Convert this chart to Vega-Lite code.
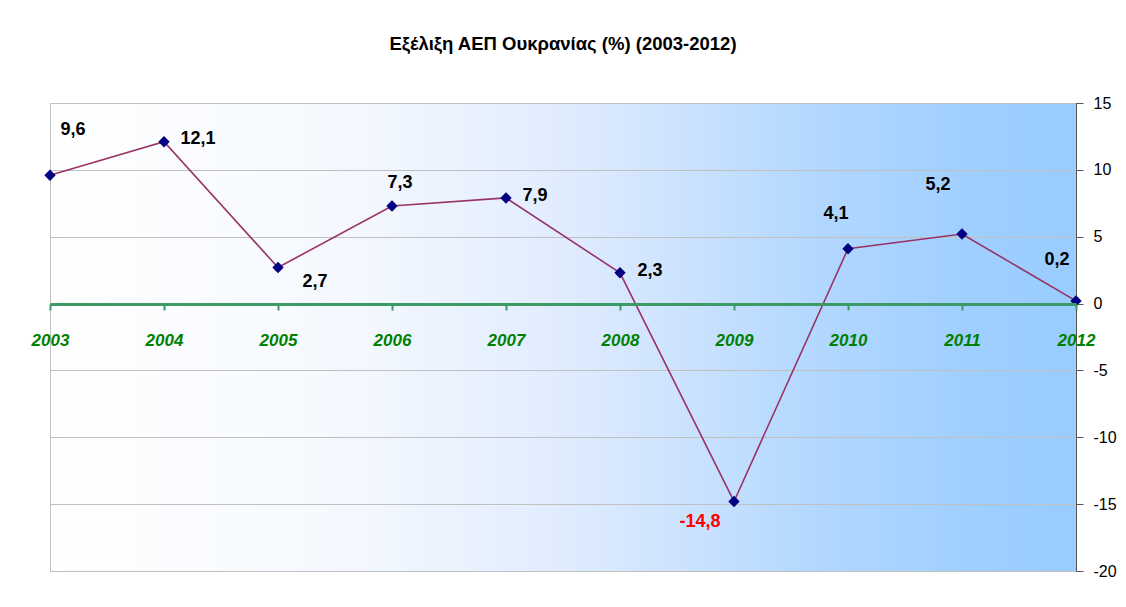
{
  "$schema": "https://vega.github.io/schema/vega-lite/v6.json",
  "width": 1026,
  "height": 468,
  "autosize": {"type": "none"},
  "padding": {"left": 50, "top": 103, "right": 50, "bottom": 36},
  "background": "white",
  "title": {
    "text": "Εξέλιξη ΑΕΠ Ουκρανίας (%) (2003-2012)",
    "font": "Liberation Sans, Arial, sans-serif",
    "fontSize": 18.5,
    "fontWeight": "bold",
    "color": "#000000",
    "anchor": "middle",
    "baseline": "bottom",
    "offset": 23
  },
  "data": {
    "values": [
      {"year": "2003", "value": 9.6},
      {"year": "2004", "value": 12.1},
      {"year": "2005", "value": 2.7},
      {"year": "2006", "value": 7.3},
      {"year": "2007", "value": 7.9},
      {"year": "2008", "value": 2.3},
      {"year": "2009", "value": -14.8},
      {"year": "2010", "value": 4.1},
      {"year": "2011", "value": 5.2},
      {"year": "2012", "value": 0.2}
    ]
  },
  "encoding": {
    "x": {
      "field": "year",
      "type": "ordinal",
      "scale": {"type": "point", "padding": 0},
      "axis": {
        "orient": "bottom",
        "offset": -267,
        "title": null,
        "labelAngle": 0,
        "domainColor": "#3c9a64",
        "domainWidth": 3,
        "tickColor": "#3c9a64",
        "tickWidth": 2,
        "tickSize": 6,
        "labelColor": "#008000",
        "labelFont": "Liberation Sans, Arial, sans-serif",
        "labelFontSize": 17,
        "labelFontStyle": "italic",
        "labelFontWeight": "bold",
        "labelPadding": 22,
        "grid": false,
        "zindex": 1
      }
    },
    "y": {
      "field": "value",
      "type": "quantitative",
      "scale": {"domain": [-20, 15], "nice": false, "zero": false},
      "axis": {
        "orient": "right",
        "title": null,
        "values": [-20, -15, -10, -5, 0, 5, 10, 15],
        "grid": true,
        "gridColor": "#c0c0c0",
        "gridWidth": 1,
        "domainColor": "#555555",
        "domainWidth": 1,
        "tickColor": "#555555",
        "tickSize": 7,
        "labelColor": "#000000",
        "labelFont": "Liberation Sans, Arial, sans-serif",
        "labelFontSize": 16,
        "labelPadding": 10
      }
    }
  },
  "layer": [
    {"mark": {"type": "line", "color": "#993366", "strokeWidth": 1.6}},
    {"mark": {"type": "point", "shape": "diamond", "filled": true, "color": "#000080", "size": 130, "opacity": 1}},
    {
      "transform": [{"filter": "datum.year == '2003'"}],
      "mark": {"type": "text", "dx": 23, "dy": -45, "fontSize": 18, "fontWeight": "bold", "font": "Liberation Sans, Arial, sans-serif", "color": "#000000", "baseline": "middle"},
      "encoding": {"text": {"field": "value", "type": "quantitative", "format": ".1f"}}
    },
    {
      "transform": [{"filter": "datum.year == '2004'"}],
      "mark": {"type": "text", "dx": 34, "dy": -3, "fontSize": 18, "fontWeight": "bold", "font": "Liberation Sans, Arial, sans-serif", "color": "#000000", "baseline": "middle"},
      "encoding": {"text": {"field": "value", "type": "quantitative", "format": ".1f"}}
    },
    {
      "transform": [{"filter": "datum.year == '2005'"}],
      "mark": {"type": "text", "dx": 37, "dy": 15, "fontSize": 18, "fontWeight": "bold", "font": "Liberation Sans, Arial, sans-serif", "color": "#000000", "baseline": "middle"},
      "encoding": {"text": {"field": "value", "type": "quantitative", "format": ".1f"}}
    },
    {
      "transform": [{"filter": "datum.year == '2006'"}],
      "mark": {"type": "text", "dx": 8, "dy": -23, "fontSize": 18, "fontWeight": "bold", "font": "Liberation Sans, Arial, sans-serif", "color": "#000000", "baseline": "middle"},
      "encoding": {"text": {"field": "value", "type": "quantitative", "format": ".1f"}}
    },
    {
      "transform": [{"filter": "datum.year == '2007'"}],
      "mark": {"type": "text", "dx": 29, "dy": -2, "fontSize": 18, "fontWeight": "bold", "font": "Liberation Sans, Arial, sans-serif", "color": "#000000", "baseline": "middle"},
      "encoding": {"text": {"field": "value", "type": "quantitative", "format": ".1f"}}
    },
    {
      "transform": [{"filter": "datum.year == '2008'"}],
      "mark": {"type": "text", "dx": 30, "dy": -2, "fontSize": 18, "fontWeight": "bold", "font": "Liberation Sans, Arial, sans-serif", "color": "#000000", "baseline": "middle"},
      "encoding": {"text": {"field": "value", "type": "quantitative", "format": ".1f"}}
    },
    {
      "transform": [{"filter": "datum.year == '2009'"}],
      "mark": {"type": "text", "dx": -34, "dy": 21, "fontSize": 18, "fontWeight": "bold", "font": "Liberation Sans, Arial, sans-serif", "color": "#ff0000", "baseline": "middle"},
      "encoding": {"text": {"field": "value", "type": "quantitative", "format": ".1f"}}
    },
    {
      "transform": [{"filter": "datum.year == '2010'"}],
      "mark": {"type": "text", "dx": -12, "dy": -35, "fontSize": 18, "fontWeight": "bold", "font": "Liberation Sans, Arial, sans-serif", "color": "#000000", "baseline": "middle"},
      "encoding": {"text": {"field": "value", "type": "quantitative", "format": ".1f"}}
    },
    {
      "transform": [{"filter": "datum.year == '2011'"}],
      "mark": {"type": "text", "dx": -24, "dy": -49, "fontSize": 18, "fontWeight": "bold", "font": "Liberation Sans, Arial, sans-serif", "color": "#000000", "baseline": "middle"},
      "encoding": {"text": {"field": "value", "type": "quantitative", "format": ".1f"}}
    },
    {
      "transform": [{"filter": "datum.year == '2012'"}],
      "mark": {"type": "text", "dx": -19, "dy": -41, "fontSize": 18, "fontWeight": "bold", "font": "Liberation Sans, Arial, sans-serif", "color": "#000000", "baseline": "middle"},
      "encoding": {"text": {"field": "value", "type": "quantitative", "format": ".1f"}}
    }
  ],
  "config": {
    "locale": {
      "number": {"decimal": ",", "thousands": ".", "grouping": [3], "currency": ["", " €"], "minus": "-"}
    },
    "view": {
      "stroke": "#c0c0c0",
      "strokeWidth": 1,
      "fill": {
        "gradient": "linear",
        "x1": 0, "y1": 0, "x2": 1, "y2": 0,
        "stops": [
          {"offset": 0, "color": "#ffffff"},
          {"offset": 0.3, "color": "#f4f8fe"},
          {"offset": 0.5, "color": "#e0ecfe"},
          {"offset": 0.6, "color": "#cfe4fe"},
          {"offset": 0.75, "color": "#b2d7ff"},
          {"offset": 0.9, "color": "#9fcfff"},
          {"offset": 1, "color": "#99ccff"}
        ]
      }
    }
  }
}
